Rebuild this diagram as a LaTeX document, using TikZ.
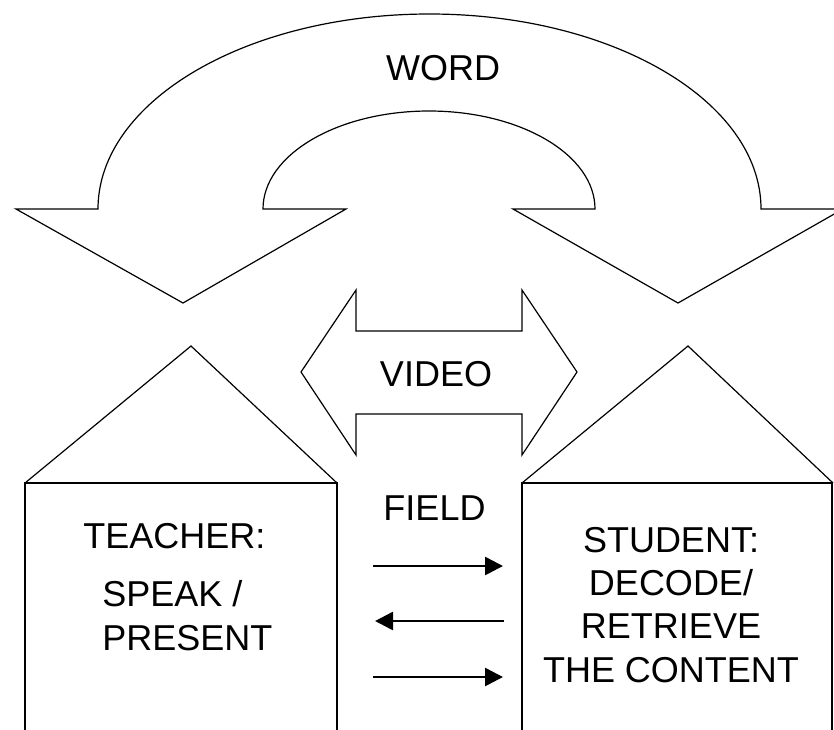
\documentclass[tikz,border=0pt]{standalone}
\usepackage{fontspec}
\setmainfont{Liberation Sans}
\usetikzlibrary{arrows.meta,positioning}

\tikzset{
  outline/.style={line width=0.6pt, line join=miter},
  caption/.style={font=\fontsize{18}{21.6}\selectfont, inner sep=0pt},
  flow/.style={line width=1.3pt, -{Triangle[length=9pt,width=9pt]}}
}

\begin{document}
\begin{tikzpicture}[x=0.5pt,y=-0.5pt]
    \useasboundingbox (0,0) rectangle (834,729);
    \clip (0,0) rectangle (834,729);
    % Word arrow (U-turn)
    \draw [outline] (16,209) -- (98,209)
        arc [start angle=180, end angle=0, x radius=165.75pt, y radius=97.5pt]
        -- (843,209) -- (678,303) -- (513,209) -- (595,209)
        arc [start angle=0, end angle=180, x radius=83pt, y radius=49pt]
        -- (346,209) -- (183,303) -- cycle;
    \node (word) [caption, anchor=base] at (443,80) {WORD};
    % Video arrow (double)
    \draw [outline] (301,372) -- (356,290) -- (356,331) -- (522,331) -- (522,290)
        -- (577,372) -- (522,455) -- (522,414) -- (356,414) -- (356,455) -- cycle;
    \node (video) [caption, anchor=base] at (436,386) {VIDEO};
    % Teacher house
    \draw [outline] (25,483) -- (191,346) -- (337,483);
    \draw [outline] (25,740) -- (25,483) -- (337,483) -- (337,740);
    \node (teacher) [caption, anchor=base west] at (83,548) {TEACHER:};
    \node (speak) [caption, anchor=base west, align=left] at (102,650) {SPEAK /\\PRESENT};
    % Student house
    \draw [outline] (522,483) -- (688,346) -- (833,483);
    \draw [outline] (522,740) -- (522,483) -- (832,483) -- (832,740);
    \node (student) [caption, anchor=base, align=center] at (671,682)
        {STUDENT:\\DECODE/\\RETRIEVE\\THE CONTENT};
    % Field
    \node (field) [caption, anchor=base] at (434.5,520) {FIELD};
    \coordinate (t1) at (373,566);
    \coordinate (s1) at (503,566);
    \coordinate (t2) at (375,621);
    \coordinate (s2) at (504,621);
    \coordinate (t3) at (373,677);
    \coordinate (s3) at (503,677);
    \draw [flow] (t1) -- (s1);
    \draw [flow] (s2) -- (t2);
    \draw [flow] (t3) -- (s3);
\end{tikzpicture}
\end{document}
